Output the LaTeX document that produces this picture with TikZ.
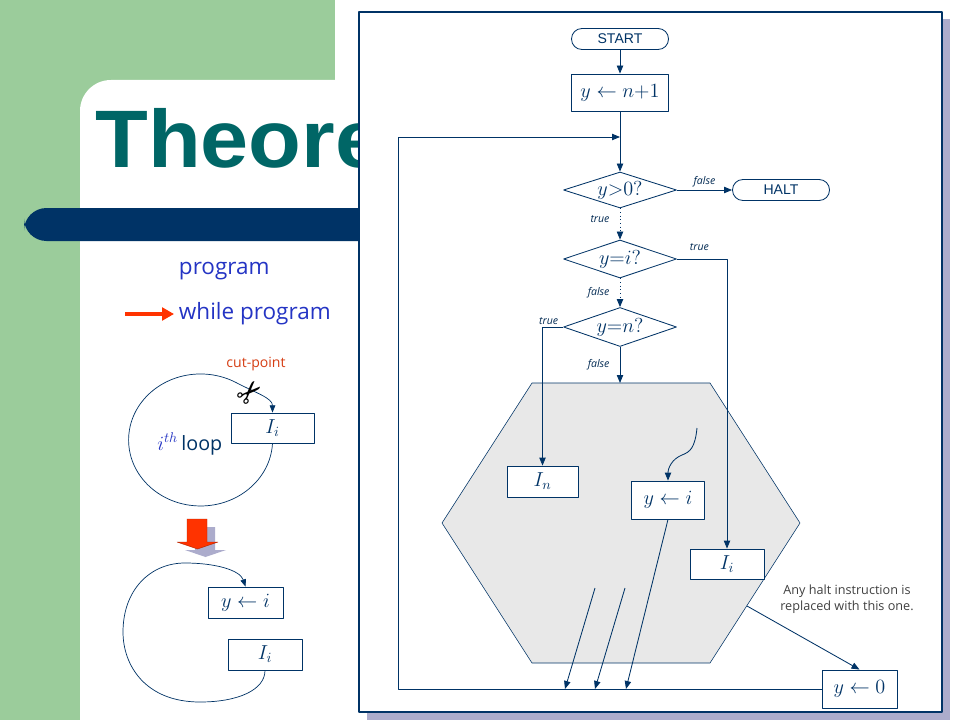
\documentclass[tikz,border=0pt]{standalone}
\usepackage{fontspec}
\setmainfont{Liberation Serif}
\newfontfamily\titlefont{Liberation Sans}
\newfontfamily\headfont[FakeStretch=1.06]{Liberation Sans}
\newfontfamily\handfont{Open Sans}
\newfontfamily\symfont{DejaVu Sans}
\usetikzlibrary{arrows.meta,shapes.geometric}

\definecolor{navy}{RGB}{0,51,102}
\definecolor{slidegreen}{RGB}{155,204,155}
\definecolor{titleteal}{RGB}{0,102,102}
\definecolor{panelshadow}{RGB}{172,172,204}
\definecolor{hexgray}{RGB}{232,232,232}
\definecolor{progblue}{RGB}{36,52,196}
\definecolor{arrowred}{RGB}{255,51,0}
\definecolor{cutred}{RGB}{214,62,20}

\begin{document}
\begin{tikzpicture}[x=0.25mm,y=0.25mm,line join=round,
	box/.style={rectangle,draw=navy,fill=white,line width=0.6pt,inner sep=0pt,font=\fontsize{14.4}{16}\selectfont,text=navy},
	term/.style={rectangle,draw=navy,fill=white,rounded corners=2.6mm,line width=0.6pt,inner sep=0pt,minimum width=24.25mm,minimum height=5.25mm,font=\titlefont\fontsize{10}{12}\selectfont,text=navy},
	decision/.style={diamond,aspect=3,draw=navy,fill=white,line width=0.6pt,inner sep=0pt,minimum width=28.25mm,font=\fontsize{14.4}{16}\selectfont,text=navy},
	lab/.style={font=\handfont\itshape\fontsize{7.5}{9}\selectfont,text=navy!80!black,inner sep=1.5pt},
	arr/.style={navy,line width=0.6pt,-{Triangle[length=2mm,width=1.6mm]}},
	loopline/.style={navy,line width=0.5pt,-{Triangle[length=1.8mm,width=1.4mm]}}]
	\useasboundingbox (0,0) rectangle (960,720);

	% slide background
	\fill[slidegreen] (0,0) rectangle (335,720);
	\fill[white] (80,0) [rounded corners=22] -- (80,640) -- (420,640) [sharp corners] -- (420,0) -- cycle;
	\node[anchor=base west,inner sep=0pt,font=\headfont\bfseries\fontsize{58}{60}\selectfont,text=titleteal] (title) at (95,552) {Theore};
	\fill[navy,rounded corners=16] (24,479) rectangle (400,512);

	% left column
	\node[anchor=west,font=\handfont\fontsize{16}{18}\selectfont,text=progblue] (prog) at (174,449) {program};
	\node[anchor=west,font=\handfont\fontsize{16}{18}\selectfont,text=progblue] (wprog) at (174,406) {while program};
	\coordinate (redtail) at (125,406);
	\draw[arrowred,line width=2.6pt,-{Triangle[length=3mm,width=3.2mm]}] (redtail) -- (wprog.west);

	\node[font=\handfont\fontsize{10}{12}\selectfont,text=cutred] (cut) at (256,356) {cut-point};
	\node[box,minimum width=20.75mm,minimum height=7.5mm] (Iloop) at (272.5,292) {$I_i$};
	\draw[loopline] (Iloop.south) arc[start angle=-3,end angle=-300,x radius=72,y radius=66]
		.. controls (256,327) and (272.5,322) .. (Iloop.north);
	\node[font=\symfont\fontsize{22}{22}\selectfont,rotate=45,inner sep=0pt] (sciss) at (251,326) {✂};
	\node[anchor=base west,inner sep=0pt] (ith) at (157,270) {\textcolor{progblue}{\fontsize{14.4}{16}\selectfont$i^{th}$} {\handfont\fontsize{14}{16}\selectfont\color{navy}loop}};

	\foreach \d/\c in {8/panelshadow,0/arrowred}
		\fill[\c,shift={(\d,-\d)}] (187,201) -- (207,201) -- (207,178) -- (218,178) -- (197.5,171) -- (177,178) -- (187,178) -- cycle;
	\draw[arrowred!70!black,line width=0.3pt] (187,201) -- (207,201) -- (207,178) -- (218,178) -- (197.5,171) -- (177,178) -- (187,178) -- cycle;

	\node[box,minimum width=18.75mm,minimum height=7.75mm] (yloop) at (245.5,117.5) {$y \leftarrow i$};
	\node[box,minimum width=18.5mm,minimum height=7.75mm] (Iloopb) at (265,65.5) {$I_i$};
	\draw[loopline] (Iloopb.south) .. controls (265,30) and (238,18) .. (200,18)
		.. controls (145,18) and (123,55) .. (123,88)
		.. controls (123,130) and (150,157) .. (185,157)
		.. controls (215,157) and (240,150) .. (yloop.north);

	% flowchart panel
	\fill[panelshadow] (367,0) rectangle (950,701);
	\draw[navy,fill=white,line width=0.8pt] (359,8) rectangle (942,708);

	\node[term] (start) at (620,681) {START};
	\node[box,minimum width=24.25mm,minimum height=9.25mm] (init) at (620,627.5) {$y \leftarrow n{+}1$};
	\node[decision,minimum height=9mm] (gt) at (620,530) {$y{>}0?$};
	\node[term] (halt) at (781,530) {HALT};
	\node[decision,minimum height=9.5mm] (eqi) at (620,461) {$y{=}i?$};
	\node[decision,minimum height=9.75mm] (eqn) at (620,393) {$y{=}n?$};

	\filldraw[fill=hexgray,draw=navy,line width=0.4pt] (532,337) -- (710,337) -- (800,197) -- (710,57) -- (532,57) -- (442,197) -- cycle;
	\coordinate (hextop) at (620,337);

	\node[box,minimum width=17.75mm,minimum height=7.75mm] (In) at (542.5,238.5) {$I_n$};
	\node[box,minimum width=18.25mm,minimum height=9.5mm] (yi) at (668,220) {$y \leftarrow i$};
	\node[box,minimum width=18.5mm,minimum height=7.5mm] (Ii) at (727,156) {$I_i$};
	\node[box,minimum width=18.75mm,minimum height=9.5mm] (yzero) at (859.5,31) {$y \leftarrow 0$};

	\draw[arr] (start) -- (init);
	\coordinate (back) at (620,583);
	\draw[arr] (init) -- (gt);
	\draw[arr] (yzero.west) -- (398,31) -- (398,583) -- (back);

	\draw[arr] (gt.east) -- node[lab,above] {false} (halt.west);
	\draw[arr,dotted] (gt.south) -- node[lab,left=2mm,pos=0.35] {true} (eqi.north);
	\draw[arr] (eqi.east) -- node[lab,above=1.5mm,pos=0.45] {true} (727,461) -- (Ii.north);
	\draw[arr,dotted] (eqi.south) -- node[lab,left=2mm] {false} (eqn.north);
	\draw[arr] (eqn.west) -- node[lab,above,pos=0.7] {true} (542.5,393) -- (In.north);
	\draw[arr] (eqn.south) -- node[lab,left=2mm] {false} (hextop);

	\coordinate (wav) at (697,292);
	\draw[arr] (wav) .. controls (695,272) and (690,268) .. (682,265) .. controls (672,261) and (668,252) .. (yi.north);

	\foreach \i/\x in {1/565,2/595,3/626}
		\coordinate (exit\i) at (\x,31);
	\coordinate (cut1) at (595,132);
	\coordinate (cut2) at (625,132);
	\draw[arr] (cut1) -- (exit1);
	\draw[arr] (cut2) -- (exit2);
	\draw[arr] (yi.south) -- (exit3);

	\node[font=\handfont\fontsize{9}{11}\selectfont,text=black!75,align=center] (note) at (847,121) {Any halt instruction is\\replaced with this one.};
	\coordinate (hexedge) at (747,114);
	\draw[arr] (hexedge) -- (yzero.north);
\end{tikzpicture}
\end{document}
